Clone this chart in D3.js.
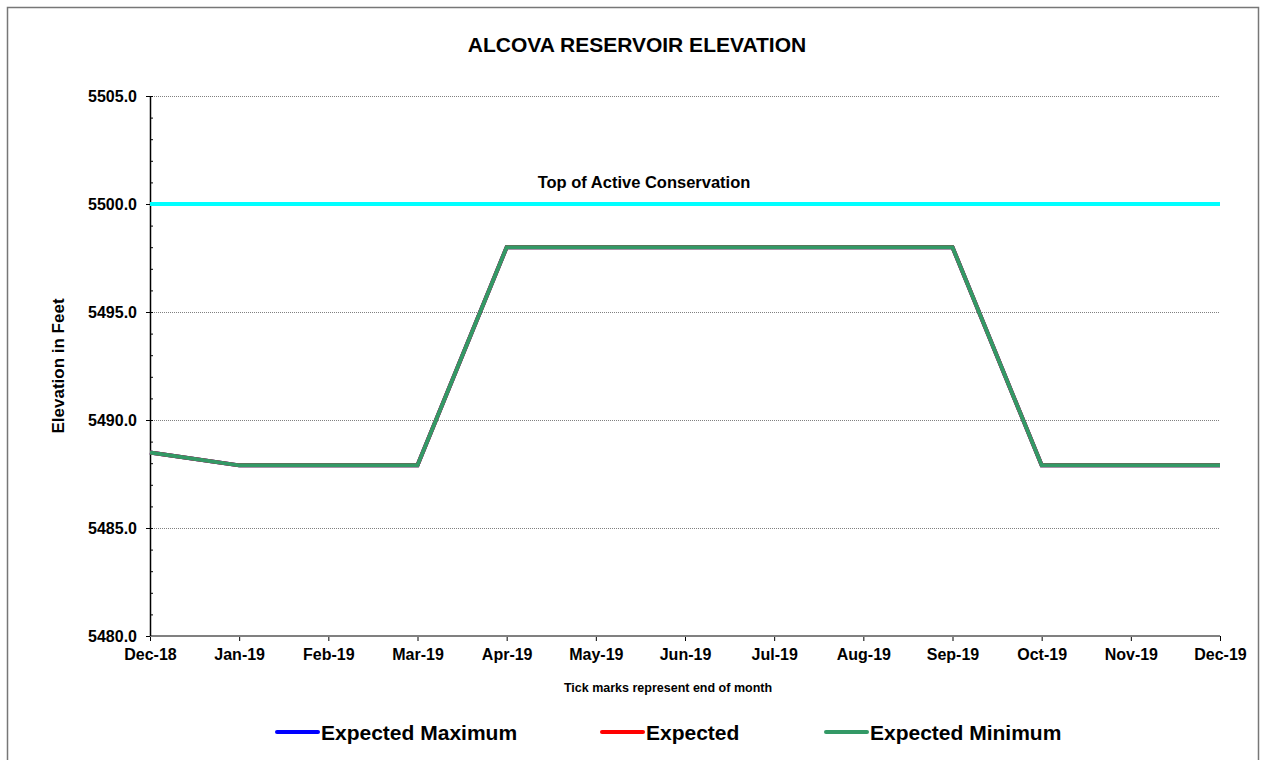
<!DOCTYPE html>
<html>
<head>
<meta charset="utf-8">
<script src="https://cdn.jsdelivr.net/npm/d3@7"></script>
<style>
  html, body { margin: 0; padding: 0; background: #fff; }
  svg text { font-family: "Liberation Sans", Arial, sans-serif; font-weight: bold; fill: #000; }
</style>
</head>
<body>
<svg id="chart" width="1264" height="760"></svg>
<script>
// End-of-month reservoir elevations (feet)
const months = ["Dec-18", "Jan-19", "Feb-19", "Mar-19", "Apr-19", "May-19", "Jun-19",
                "Jul-19", "Aug-19", "Sep-19", "Oct-19", "Nov-19", "Dec-19"];
const expectedMaximum = [5488.5, 5487.9, 5487.9, 5487.9, 5498.0, 5498.0, 5498.0, 5498.0, 5498.0, 5498.0, 5487.9, 5487.9, 5487.9];
const expected        = [5488.5, 5487.9, 5487.9, 5487.9, 5498.0, 5498.0, 5498.0, 5498.0, 5498.0, 5498.0, 5487.9, 5487.9, 5487.9];
const expectedMinimum = [5488.5, 5487.9, 5487.9, 5487.9, 5498.0, 5498.0, 5498.0, 5498.0, 5498.0, 5498.0, 5487.9, 5487.9, 5487.9];
const topOfActiveConservation = 5500.0;
const yTicks = [5480, 5485, 5490, 5495, 5500, 5505];
const yMinorTicks = d3.range(5480, 5506, 1);

const series = [
  { name: "Expected Maximum", values: expectedMaximum, color: "#0000FF" },
  { name: "Expected",         values: expected,        color: "#FF0000" },
  { name: "Expected Minimum", values: expectedMinimum, color: "#339966" }
];

const svg = d3.select("#chart");
const plot = { left: 150, right: 1220, top: 96, bottom: 636 };

const x = d3.scalePoint().domain(months).range([plot.left, plot.right]);
const y = d3.scaleLinear().domain([5480, 5505]).range([plot.bottom, plot.top]);

// Outer frame
svg.append("rect")
  .attr("x", 7.5).attr("y", 7.5).attr("width", 1251).attr("height", 770)
  .attr("fill", "#fff").attr("stroke", "#777").attr("stroke-width", 1.5);

// Title
svg.append("text")
  .attr("x", 637).attr("y", 52)
  .attr("text-anchor", "middle").style("font-size", "21px")
  .text("ALCOVA RESERVOIR ELEVATION");

// Dotted horizontal gridlines
svg.append("g").selectAll("line")
  .data(yTicks.filter(d => d > 5480))
  .join("line")
  .attr("x1", plot.left - 4).attr("x2", plot.right)
  .attr("y1", d => y(d) + 0.5).attr("y2", d => y(d) + 0.5)
  .attr("stroke", "#808080").attr("stroke-width", 1)
  .attr("stroke-dasharray", "1,1");

// Y axis: major ticks outside, minor ticks inside
const yAxis = svg.append("g").attr("transform", `translate(${plot.left},0)`)
  .call(d3.axisLeft(y).tickValues(yTicks).tickSize(4).tickPadding(9).tickFormat(d3.format(".1f")));
yAxis.select(".domain").remove();
yAxis.selectAll(".tick line").attr("stroke", "#000");
yAxis.selectAll(".tick text").style("font-size", "16px").attr("font-family", null).attr("dy", "0.36em");

svg.append("g").selectAll("line")
  .data(yMinorTicks)
  .join("line")
  .attr("x1", plot.left).attr("x2", plot.left + 3)
  .attr("y1", d => y(d) + 0.5).attr("y2", d => y(d) + 0.5)
  .attr("stroke", "#000").attr("stroke-width", 1);

// X axis
const xAxis = svg.append("g").attr("transform", `translate(0,${plot.bottom})`)
  .call(d3.axisBottom(x).tickSize(5).tickPadding(8));
xAxis.select(".domain").remove();
xAxis.selectAll(".tick line").attr("stroke", "#000");
xAxis.selectAll(".tick text").style("font-size", "16px").attr("font-family", null);

svg.append("line")
  .attr("x1", plot.left).attr("x2", plot.right)
  .attr("y1", plot.bottom).attr("y2", plot.bottom)
  .attr("stroke", "#808080").attr("stroke-width", 2);

svg.append("line")
  .attr("x1", plot.left + 0.5).attr("x2", plot.left + 0.5)
  .attr("y1", plot.top).attr("y2", plot.bottom)
  .attr("stroke", "#000").attr("stroke-width", 1.5);

// Top of active conservation pool
svg.append("line")
  .attr("x1", plot.left).attr("x2", plot.right)
  .attr("y1", y(topOfActiveConservation)).attr("y2", y(topOfActiveConservation))
  .attr("stroke", "#00FFFF").attr("stroke-width", 4);
svg.append("text")
  .attr("x", 644).attr("y", 188)
  .attr("text-anchor", "middle").style("font-size", "16.5px")
  .text("Top of Active Conservation");

// Elevation series
const line = d3.line()
  .x((d, i) => x(months[i]))
  .y(d => y(d));

svg.append("g").selectAll("path")
  .data(series)
  .join("path")
  .attr("d", s => line(s.values))
  .attr("fill", "none")
  .attr("stroke", s => s.color)
  .attr("stroke-width", 4)
  .attr("stroke-linejoin", "miter");

// Axis titles
svg.append("text")
  .attr("transform", "translate(64,366) rotate(-90)")
  .attr("text-anchor", "middle").style("font-size", "17px")
  .text("Elevation in Feet");

svg.append("text")
  .attr("x", 668).attr("y", 692)
  .attr("text-anchor", "middle").style("font-size", "12.5px")
  .text("Tick marks represent end of month");

// Legend
const legendX = [277, 602, 826];
const legend = svg.append("g").selectAll("g")
  .data(series)
  .join("g")
  .attr("transform", (d, i) => `translate(${legendX[i]},732)`);
legend.append("line")
  .attr("x1", 0).attr("x2", 41)
  .attr("stroke", d => d.color).attr("stroke-width", 4)
  .attr("stroke-linecap", "round");
legend.append("text")
  .attr("x", 44).attr("y", 7.5)
  .style("font-size", "21px")
  .text(d => d.name);
</script>
</body>
</html>
